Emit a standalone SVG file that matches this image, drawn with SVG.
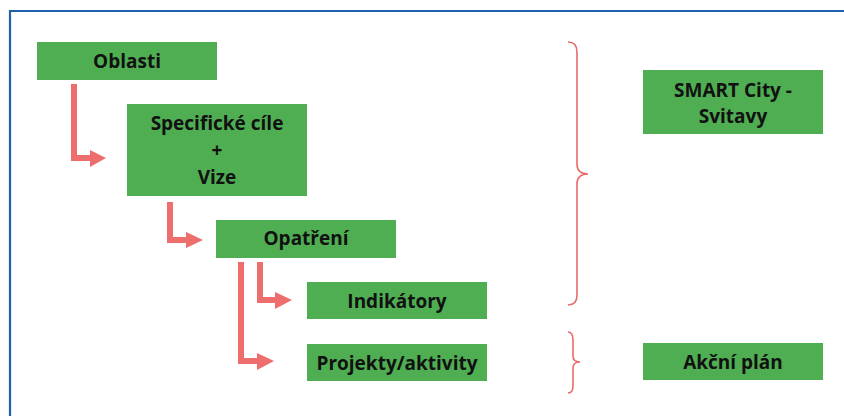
<svg xmlns="http://www.w3.org/2000/svg" width="844" height="416" viewBox="0 0 844 416">
<style>
.box{fill:#4fae52;}
.t{font-family:"Open Sans","Liberation Sans",sans-serif;font-weight:bold;font-size:19px;fill:#111;text-anchor:middle;}
.arr{fill:#ee6e6e;}
.brace{fill:none;stroke:#ea6b6b;stroke-width:1.6;}
</style>
<rect width="844" height="416" fill="#fff"/>
<path d="M10,418 V11 H846" fill="none" stroke="#1f5fab" stroke-width="2.2"/>
<g id="connectors">
<path class="arr" d="M71,84 H77 V155 H90 V150 L106,158 L90,167 V161 H71 Z"/>
<path class="arr" d="M167,202 H173 V237 H186 V232 L203,240 L186,248 V243 H167 Z"/>
<path class="arr" d="M257,262 H263 V297 H275 V292 L292,300 L275,309 V303 H257 Z"/>
<path class="arr" d="M238,262 H244 V358 H257 V353 L274,361 L257,370 V364 H238 Z"/>
<path class="brace" d="M568,42 Q577,42 577,52 V164 Q577,174 588,174 Q577,174 577,184 V295 Q577,305 568,305"/>
<path class="brace" d="M568,332 Q573,332 573,340 V356 Q573,362 580,362 Q573,362 573,368 V386 Q573,393 568,393"/>
</g>
<g id="oblasti">
<rect class="box" x="37" y="42" width="180" height="38"/>
<text class="t" x="127" y="68">Oblasti</text>
</g>
<g id="cile">
<rect class="box" x="127" y="104" width="180" height="92"/>
<text class="t" x="217" y="130">Specifické cíle</text>
<text class="t" x="217" y="157">+</text>
<text class="t" x="217" y="184">Vize</text>
</g>
<g id="opatreni">
<rect class="box" x="216" y="220" width="180" height="38"/>
<text class="t" x="306" y="245">Opatření</text>
</g>
<g id="indikatory">
<rect class="box" x="307" y="282" width="180" height="37"/>
<text class="t" x="397" y="308">Indikátory</text>
</g>
<g id="projekty">
<rect class="box" x="307" y="344" width="180" height="37"/>
<text class="t" x="397" y="370">Projekty/aktivity</text>
</g>
<g id="smart">
<rect class="box" x="643" y="70" width="180" height="64"/>
<text class="t" x="733" y="97">SMART City -</text>
<text class="t" x="733" y="123">Svitavy</text>
</g>
<g id="akcni">
<rect class="box" x="643" y="343" width="180" height="37"/>
<text class="t" x="733" y="369">Akční plán</text>
</g>
</svg>
